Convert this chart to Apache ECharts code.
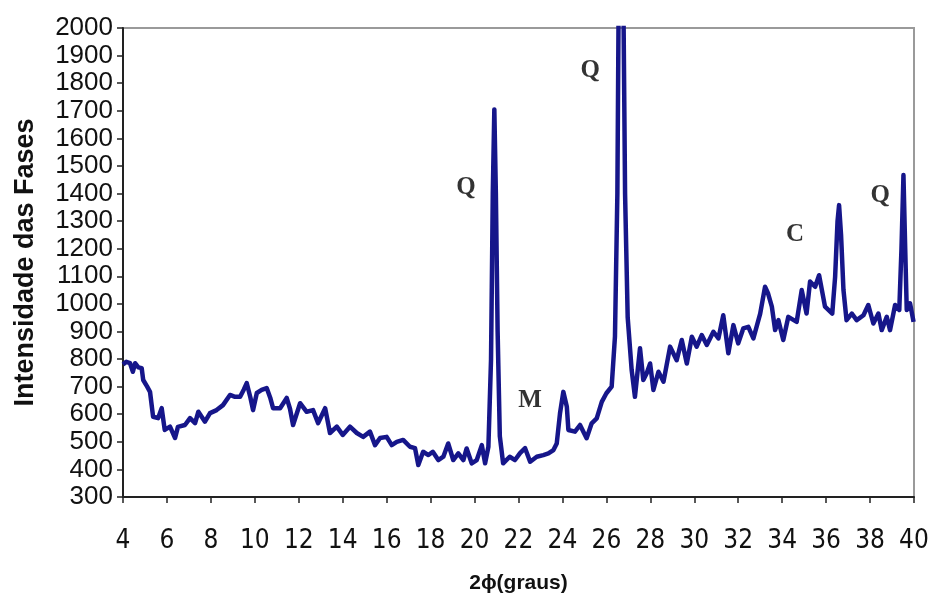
<!DOCTYPE html>
<html>
<head>
<meta charset="utf-8">
<script src="https://cdn.jsdelivr.net/npm/echarts@6/dist/echarts.min.js"></script>
<style>html,body{margin:0;padding:0;background:#fff}#c{width:932px;height:599px}</style>
</head>
<body>
<div id="c"></div>
<script>
// 2θ (degrees)
var twoTheta = [4.0,4.15,4.32,4.45,4.55,4.7,4.85,4.92,5.1,5.23,5.37,5.6,5.76,5.9,6.14,6.37,6.5,6.82,7.05,7.28,7.43,7.73,7.96,8.26,8.55,8.87,9.1,9.33,9.5,9.63,9.8,9.92,10.09,10.31,10.54,10.7,10.83,11.15,11.45,11.6,11.74,12.06,12.36,12.65,12.88,13.2,13.42,13.73,14.0,14.33,14.64,14.93,15.24,15.47,15.7,16.0,16.23,16.46,16.75,17.06,17.29,17.44,17.66,17.9,18.1,18.35,18.58,18.8,19.03,19.26,19.49,19.64,19.87,20.1,20.33,20.48,20.63,20.75,20.83,20.9,20.97,21.05,21.15,21.3,21.6,21.84,22.07,22.3,22.53,22.83,23.13,23.36,23.59,23.74,23.89,24.04,24.2,24.27,24.57,24.8,25.1,25.33,25.56,25.79,26.0,26.24,26.39,26.5,26.6,26.72,26.85,26.97,27.15,27.3,27.53,27.68,27.83,27.99,28.14,28.37,28.6,28.9,29.2,29.43,29.66,29.89,30.11,30.34,30.57,30.87,31.1,31.32,31.55,31.78,32.0,32.23,32.46,32.69,33.0,33.22,33.35,33.53,33.68,33.83,34.05,34.28,34.66,34.89,35.11,35.27,35.5,35.68,35.95,36.28,36.41,36.52,36.59,36.68,36.79,36.93,37.17,37.39,37.7,37.92,38.15,38.38,38.53,38.76,38.91,39.14,39.33,39.43,39.52,39.6,39.67,39.82,39.98];
// Intensity
var intensity = [780,790,785,754,785,770,767,724,700,681,591,586,622,543,555,514,554,561,586,568,609,573,604,615,633,670,663,663,690,713,660,615,677,688,695,660,622,622,659,620,561,640,609,615,568,622,532,555,525,555,532,518,537,488,514,518,488,500,507,482,477,416,464,452,464,434,446,494,434,458,434,476,422,434,488,422,482,800,1400,1705,1400,900,520,422,446,434,459,477,428,446,452,458,470,494,604,681,627,543,537,561,513,567,585,645,676,700,881,1400,2600,2600,1400,950,760,663,839,724,748,784,688,754,718,845,796,869,784,881,845,887,851,899,875,959,821,923,857,911,917,875,965,1062,1040,990,905,941,869,953,935,1050,965,1081,1062,1104,990,965,1098,1300,1358,1250,1050,941,965,941,959,996,929,965,905,953,905,996,978,1200,1467,1200,978,1002,935];
// Phase annotations
var phaseLabels = ['Q','Q','M','C','Q'];
var phaseX = [19.61,25.26,22.53,34.59,38.46];
var phaseY = [1420,1847,648,1253,1394];

var xTicks = {min:4, max:40, interval:2};
var yTicks = {min:300, max:2000, interval:100};

var lineData = twoTheta.map(function(x,i){return [x,intensity[i]];});
var annData = phaseLabels.map(function(t,i){return {value:[phaseX[i],phaseY[i]], name:t};});

var chart = echarts.init(document.getElementById('c'));
chart.setOption({
  animation:false,
  backgroundColor:'#fff',
  grid:{left:123,right:18,top:28,bottom:102,show:true,borderColor:'#9a9a9a',borderWidth:2,backgroundColor:'#fff'},
  xAxis:{type:'value',min:xTicks.min,max:xTicks.max,interval:xTicks.interval,
    name:'2\u03d5(graus)',nameLocation:'middle',nameGap:76,
    nameTextStyle:{fontFamily:'Liberation Sans',fontWeight:'bold',fontSize:21,color:'#111'},
    axisLine:{lineStyle:{color:'#222',width:2}},
    axisTick:{show:true,inside:false,length:6,lineStyle:{color:'#222',width:1.5}},
    axisLabel:{margin:31,fontFamily:'Liberation Sans Narrow, DejaVu Sans Condensed',fontSize:26,color:'#111'},
    splitLine:{show:false}},
  yAxis:{type:'value',min:yTicks.min,max:yTicks.max,interval:yTicks.interval,
    name:'Intensidade das Fases',nameLocation:'middle',nameGap:84,
    nameTextStyle:{fontFamily:'Liberation Sans',fontWeight:'bold',fontSize:27,color:'#111'},
    axisLine:{show:true,lineStyle:{color:'#222',width:2}},
    axisTick:{show:true,inside:false,length:6,lineStyle:{color:'#222',width:1.5}},
    axisLabel:{margin:10,fontFamily:'Liberation Sans',fontSize:26,color:'#111',
      formatter:function(v){return String(v);}},
    splitLine:{show:false}},
  series:[
    {type:'line',data:lineData,symbol:'none',clip:true,
     lineStyle:{color:'#16168a',width:4.5,join:'round'}},
    {type:'scatter',data:annData,symbolSize:0,silent:true,
     label:{show:true,position:'inside',formatter:function(p){return p.name;},
       fontFamily:'Liberation Serif',fontWeight:'bold',fontSize:25,color:'#000'}}
  ]
});
</script>
</body>
</html>
